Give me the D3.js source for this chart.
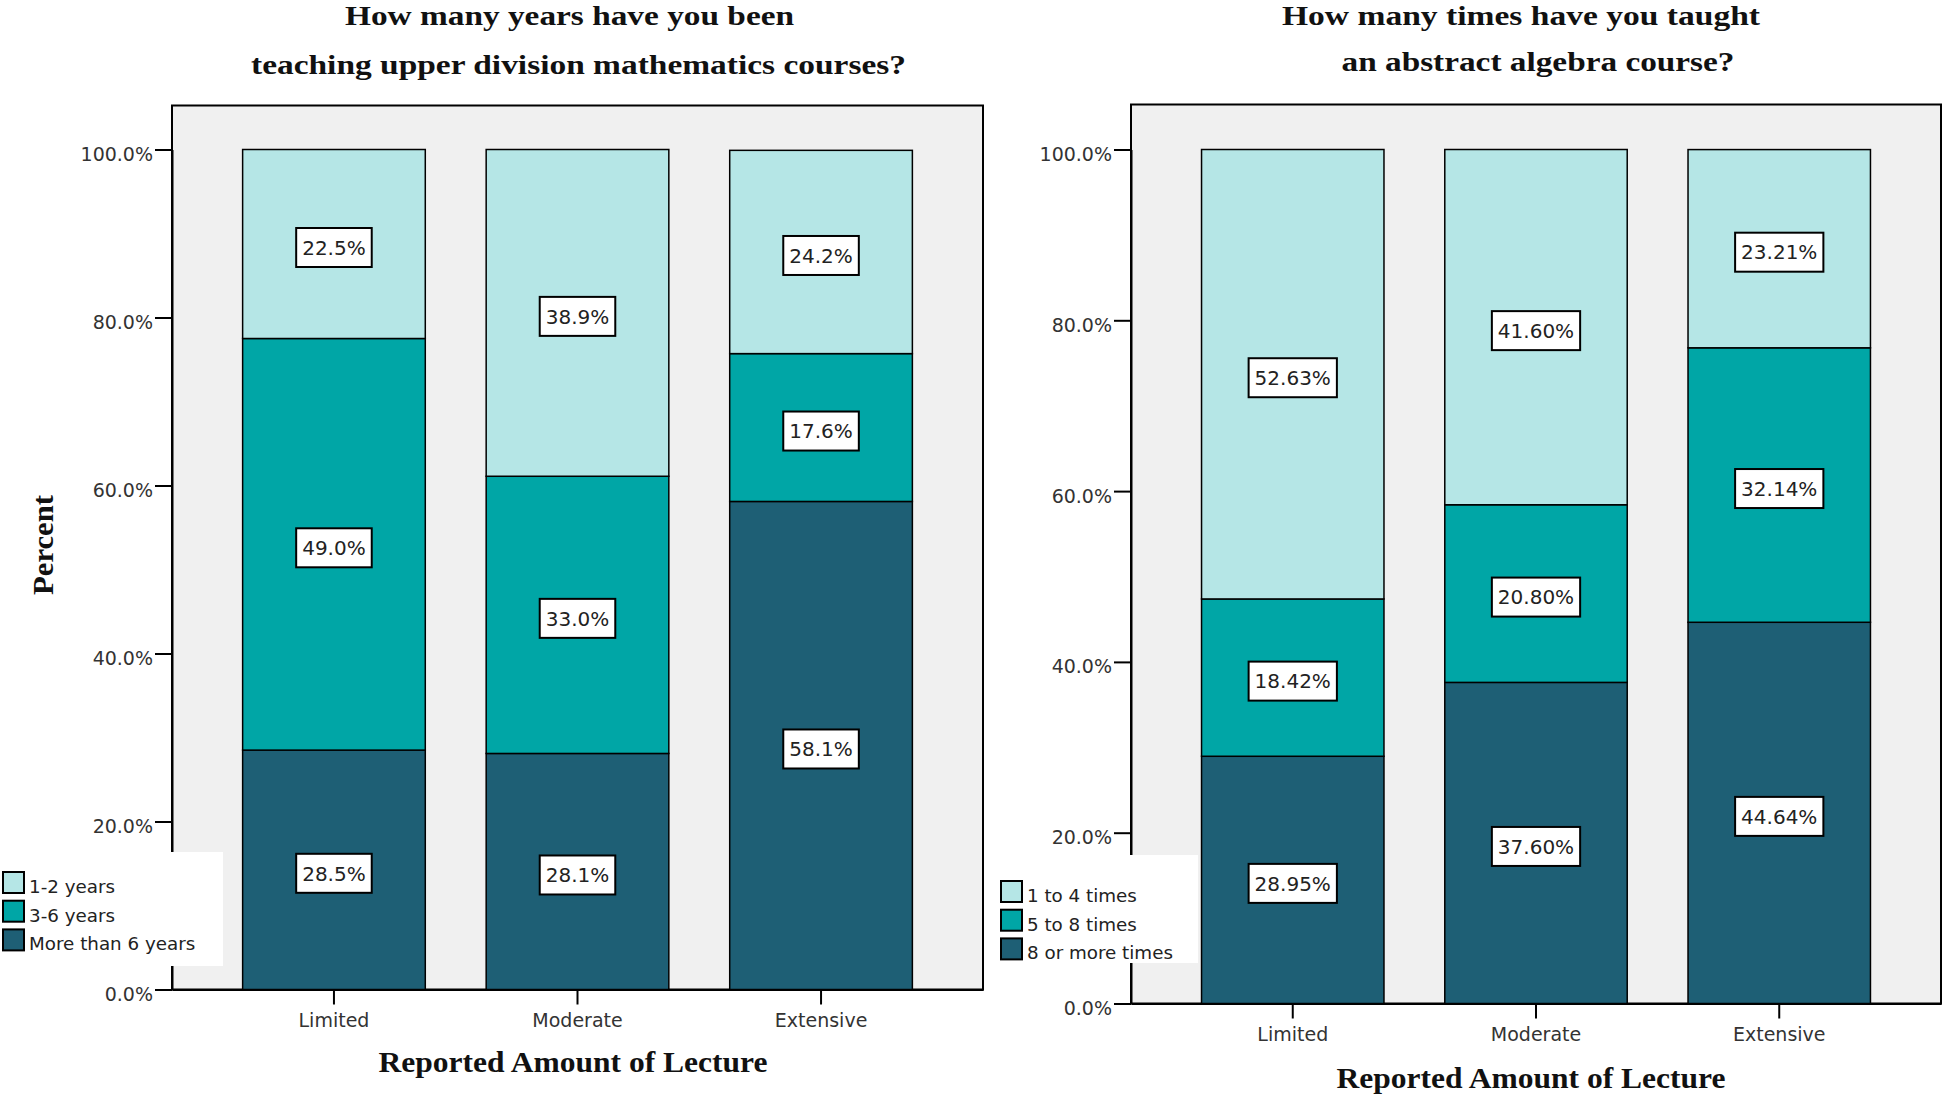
<!DOCTYPE html>
<html>
<head>
<meta charset="utf-8">
<script src="https://cdn.jsdelivr.net/npm/d3@7"></script>
<style>
  html, body { margin: 0; padding: 0; background: #ffffff; }
  svg { display: block; }
</style>
</head>
<body>
<div id="chart"></div>
<script>
// ---------------- DATA ----------------
const categories = ["Limited", "Moderate", "Extensive"];
const yTicks = [0, 20, 40, 60, 80, 100];

// Left panel: years teaching upper division mathematics
const yearsSeries = ["1-2 years", "3-6 years", "More than 6 years"];
const years1to2      = [22.5, 38.9, 24.2];
const years3to6      = [49.0, 33.0, 17.6];
const yearsMoreThan6 = [28.5, 28.1, 58.1];

// Right panel: times taught abstract algebra
const timesSeries = ["1 to 4 times", "5 to 8 times", "8 or more times"];
const times1to4  = [52.63, 41.60, 23.21];
const times5to8  = [18.42, 20.80, 32.14];
const times8plus = [28.95, 37.60, 44.64];

const titleLeft  = ["How many years have you been", "teaching upper division mathematics courses?"];
const titleRight = ["How many times have you taught", "an abstract algebra course?"];
const xAxisTitle = "Reported Amount of Lecture";
const yAxisTitle = "Percent";

// ---------------- STYLE ----------------
const colors = ["#b5e6e6", "#00a6a6", "#1e5f75"]; // light (top), teal (middle), dark (bottom)
const SERIF = "'Liberation Serif', 'Times New Roman', serif";
const SANS = "'DejaVu Sans', sans-serif";

const W = 1946, H = 1099;
const svg = d3.select("#chart").append("svg").attr("width", W).attr("height", H);

function drawPanel(cfg) {
  const g = svg.append("g");
  const x = d3.scaleBand().domain(categories).range([cfg.x0, cfg.x1])
    .paddingInner(0.25).paddingOuter(0.29);
  const y = d3.scaleLinear().domain([0, 100]).range([cfg.y0, cfg.y100]);

  // frame / plot background
  g.append("rect")
    .attr("x", cfg.x0).attr("y", cfg.top)
    .attr("width", cfg.x1 - cfg.x0).attr("height", cfg.y0 - cfg.top)
    .attr("fill", "#f0f0f0").attr("stroke", "#000").attr("stroke-width", 2);

  // stacked data: bottom -> top
  const keys = ["bottom", "middle", "top"];
  const rows = categories.map((c, i) => ({
    cat: c, bottom: cfg.bottom[i], middle: cfg.middle[i], top: cfg.top_[i]
  }));
  const stacked = d3.stack().keys(keys)(rows);
  const colorOf = { bottom: colors[2], middle: colors[1], top: colors[0] };

  stacked.forEach(layer => {
    g.append("g").selectAll("rect").data(layer).join("rect")
      .attr("x", d => x(d.data.cat))
      .attr("width", x.bandwidth())
      .attr("y", d => y(d[1]))
      .attr("height", d => y(d[0]) - y(d[1]))
      .attr("fill", colorOf[layer.key])
      .attr("stroke", "#000").attr("stroke-width", 1.5);
  });

  // data labels
  stacked.forEach(layer => {
    layer.forEach(d => {
      const val = d.data[layer.key];
      const cx = x(d.data.cat) + x.bandwidth() / 2;
      const cy = (y(d[0]) + y(d[1])) / 2 + 3.5;
      const lg = g.append("g");
      const t = lg.append("text")
        .attr("x", cx).attr("y", cy)
        .attr("text-anchor", "middle").attr("dy", "0.36em")
        .attr("font-family", SANS).attr("font-size", 20)
        .attr("fill", "#222")
        .text(val.toFixed(cfg.decimals) + "%");
      const w = t.node().getComputedTextLength() + 12;
      lg.insert("rect", "text")
        .attr("x", cx - w / 2).attr("y", cy - 19.5)
        .attr("width", w).attr("height", 39)
        .attr("fill", "#fff").attr("stroke", "#000").attr("stroke-width", 2);
    });
  });

  // y axis
  const ya = g.append("g").attr("transform", `translate(${cfg.x0},0)`)
    .call(d3.axisLeft(y).tickValues(yTicks).tickSize(17).tickSizeOuter(0).tickPadding(2)
      .tickFormat(d => d.toFixed(1) + "%"));
  ya.select(".domain").attr("stroke", "#000").attr("stroke-width", 2);
  ya.selectAll(".tick line").attr("stroke", "#000").attr("stroke-width", 2);
  ya.selectAll(".tick text").attr("font-family", SANS).attr("font-size", 19)
    .attr("fill", "#333").attr("dy", "0.58em");

  // x axis
  const xa = g.append("g").attr("transform", `translate(0,${cfg.y0})`)
    .call(d3.axisBottom(x).tickSize(15).tickSizeOuter(0).tickPadding(9));
  xa.select(".domain").attr("stroke", "#000").attr("stroke-width", 2);
  xa.selectAll(".tick line").attr("stroke", "#000").attr("stroke-width", 2);
  xa.selectAll(".tick text").attr("font-family", SANS).attr("font-size", 19).attr("fill", "#333");

  // legend (drawn over the axis)
  const L = cfg.legend;
  g.append("rect").attr("x", L.x).attr("y", L.y).attr("width", L.w).attr("height", L.h)
    .attr("fill", "#fff");
  const names = cfg.seriesNames;
  names.forEach((n, i) => {
    const sy = L.sy + i * 28.7;
    g.append("rect").attr("x", L.sx).attr("y", sy).attr("width", 21).attr("height", 21)
      .attr("fill", colors[i]).attr("stroke", "#000").attr("stroke-width", 2);
    g.append("text").attr("x", L.sx + 26).attr("y", sy + 21)
      .attr("font-family", SANS).attr("font-size", 18.3).attr("fill", "#222")
      .text(n);
  });

  // titles
  cfg.title.forEach((line, i) => {
    g.append("text").attr("x", cfg.titleX[i]).attr("y", cfg.titleY[i])
      .attr("text-anchor", "middle")
      .attr("font-family", SERIF).attr("font-weight", "bold").attr("font-size", 27)
      .attr("textLength", cfg.titleLen[i]).attr("lengthAdjust", "spacingAndGlyphs")
      .attr("fill", "#111")
      .text(line);
  });

  // x axis title
  g.append("text").attr("x", cfg.xTitleX).attr("y", cfg.xTitleY)
    .attr("text-anchor", "middle")
    .attr("font-family", SERIF).attr("font-weight", "bold").attr("font-size", 29)
    .attr("textLength", 389).attr("lengthAdjust", "spacingAndGlyphs")
    .attr("fill", "#111")
    .text(xAxisTitle);

  if (cfg.showYTitle) {
    g.append("text")
      .attr("transform", `translate(53,545) rotate(-90)`)
      .attr("text-anchor", "middle")
      .attr("font-family", SERIF).attr("font-weight", "bold").attr("font-size", 29)
      .attr("textLength", 100).attr("lengthAdjust", "spacingAndGlyphs")
      .attr("fill", "#111")
      .text(yAxisTitle);
  }
}

drawPanel({
  x0: 172, x1: 983, top: 105.5, y0: 989.5, y100: 149.5,
  bottom: yearsMoreThan6, middle: years3to6, top_: years1to2,
  decimals: 1,
  seriesNames: yearsSeries,
  legend: { x: 0, y: 852, w: 223, h: 114, sx: 3, sy: 872 },
  title: titleLeft, titleX: [569.5, 578.5], titleY: [25, 74], titleLen: [449, 655],
  xTitleX: 573, xTitleY: 1072,
  showYTitle: true
});

drawPanel({
  x0: 1131, x1: 1941, top: 104.5, y0: 1003.5, y100: 149.5,
  bottom: times8plus, middle: times5to8, top_: times1to4,
  decimals: 2,
  seriesNames: timesSeries,
  legend: { x: 990, y: 855, w: 208, h: 108, sx: 1001, sy: 881 },
  title: titleRight, titleX: [1521, 1538], titleY: [25, 71], titleLen: [478, 393],
  xTitleX: 1531, xTitleY: 1088,
  showYTitle: false
});
</script>
</body>
</html>
